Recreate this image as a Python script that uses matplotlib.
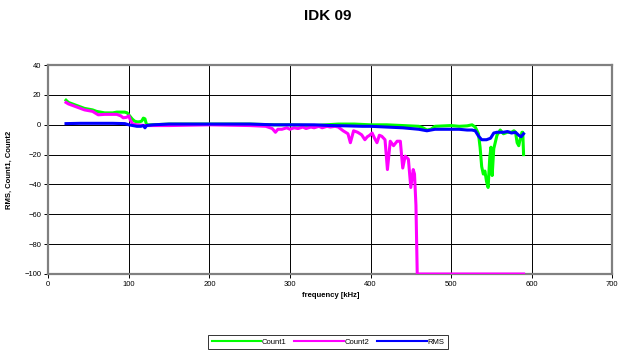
import matplotlib
matplotlib.use("Agg")
import matplotlib.pyplot as plt

plt.rcParams['font.family'] = ['Liberation Sans', 'DejaVu Sans']

# Measured curves (frequency in kHz)
freq_count1 = [22, 25, 30, 35, 40, 45, 50, 55, 60, 65, 70, 75, 80, 85, 90, 95, 98,
               101, 104, 107, 110, 113, 116, 118, 120, 122, 130, 150, 200, 250, 280,
               300, 330, 360, 380, 400, 420, 440, 460, 465, 470, 475, 480, 500, 510,
               520, 526, 530, 534, 536, 538, 540, 542, 544, 546, 548, 549.5, 551, 553,
               557, 561, 565, 570, 575, 578, 580, 582, 584, 586, 588, 589, 590]
count1 = [16.5, 15, 14, 13, 12, 11, 10.5, 10, 9, 8.5, 8, 8, 8, 8.5, 8.5, 8.5, 8,
          6, 4, 2.5, 2, 2, 2.5, 4.5, 4, 0, 0, 0.5, 0.5, 0.5, 0,
          0, -0.5, 0.5, 0.5, 0, 0, -0.5, -1, -2, -3.5, -3, -1, -0.5, -1,
          -0.7, 0, -1.5, -6, -15, -28, -33, -31, -38, -42, -22, -15, -34, -16,
          -7, -3.5, -6, -5, -5, -4, -5, -12, -14, -9, -5, -5, -20]

freq_count2 = [22, 25, 30, 35, 40, 45, 50, 55, 58, 62, 70, 80, 85, 90, 93, 97, 100,
               102, 105, 110, 120, 150, 200, 250, 270, 278, 282, 285, 290, 296, 300,
               305, 310, 316, 320, 326, 330, 336, 340, 346, 350, 356, 360, 366, 372,
               375, 379, 384, 389, 393, 396, 399, 402, 405, 408, 411, 414, 418, 421,
               424.5, 428.6, 433, 437, 440, 443, 447, 450, 453, 454.6, 456.4, 458,
               470, 500, 550, 590]
count2 = [15, 14, 13, 12, 11, 10, 9.5, 9, 8, 6.7, 7, 7, 7, 6, 4.7, 5, 6,
          3, 0.5, 0, -0.5, -0.5, 0, -0.5, -1, -2.5, -5, -3, -3, -2, -3,
          -2, -2.5, -1.5, -2.5, -1.5, -2, -1, -2, -1, -1.5, -1, -1.5, -4, -6,
          -12, -4, -5, -6.7, -10, -8, -7, -5.5, -9, -12, -7, -7.7, -10, -30,
          -11, -14, -11, -11, -29, -21, -23, -42, -30, -33, -54, -100,
          -100, -100, -100, -100]

freq_rms = [22, 40, 60, 80, 95, 100, 105, 110, 115, 118, 120, 122, 130, 150, 200,
            250, 280, 300, 330, 350, 370, 390, 400, 420, 440, 450, 460, 465, 470,
            475, 480, 490, 500, 510, 520, 526, 530, 534, 538, 544, 549, 553, 557,
            565, 570, 575, 580, 584, 587, 590]
rms = [0.8, 1, 1, 1, 0.8, 0, -0.5, -1, -1, -0.5, -2, -0.5, 0, 0.5, 0.5,
       0.5, 0, 0, 0, -0.5, -0.7, -1, -1, -1.5, -2, -2.5, -3, -3.5, -4,
       -3.5, -3, -3, -3, -3, -3.5, -3.5, -4, -7.5, -10, -10, -9, -5.5, -5,
       -5, -4.5, -5.5, -5, -7, -8, -6]

x_ticks = [0, 100, 200, 300, 400, 500, 600, 700]
y_ticks = [-100, -80, -60, -40, -20, 0, 20, 40]

fig = plt.figure(figsize=(6.19, 3.54), dpi=100)
ax = fig.add_axes([0.078, 0.226, 0.911, 0.59])

ax.plot(freq_count1, count1, color='#00FF00', lw=2.2, label='Count1', zorder=3)
ax.plot(freq_count2, count2, color='#FF00FF', lw=2.2, label='Count2', zorder=4)
ax.plot(freq_rms, rms, color='#0000FF', lw=2.2, label='RMS', zorder=5)

ax.set_xlim(0, 700)
ax.set_ylim(-100, 40)
ax.set_xticks(x_ticks)
ax.set_yticks(y_ticks)
ax.tick_params(labelsize=5.5, length=3, width=0.7, color='black', pad=2)
ax.grid(True, color='black', lw=0.7, zorder=1)
ax.set_axisbelow(True)
for s in ax.spines.values():
    s.set_color('#808080')
    s.set_linewidth(1.6)

ax.set_xlabel('frequency [kHz]', fontsize=5.5, fontweight='bold', labelpad=3)
ax.set_ylabel('RMS, Count1, Count2', fontsize=5.5, fontweight='bold', labelpad=8)
fig.suptitle('IDK 09', x=0.53, y=0.975, fontsize=11, fontweight='bold')

leg = fig.legend(loc='center', bbox_to_anchor=(0.53, 0.033), ncol=3, fontsize=5.5,
                 frameon=True, fancybox=False, edgecolor='black', handlelength=6.5,
                 handletextpad=0.1, columnspacing=1.0, borderpad=0.45)
leg.get_frame().set_linewidth(0.7)
for line in leg.get_lines():
    line.set_linewidth(1.5)

fig.savefig('out.png', dpi=100)
